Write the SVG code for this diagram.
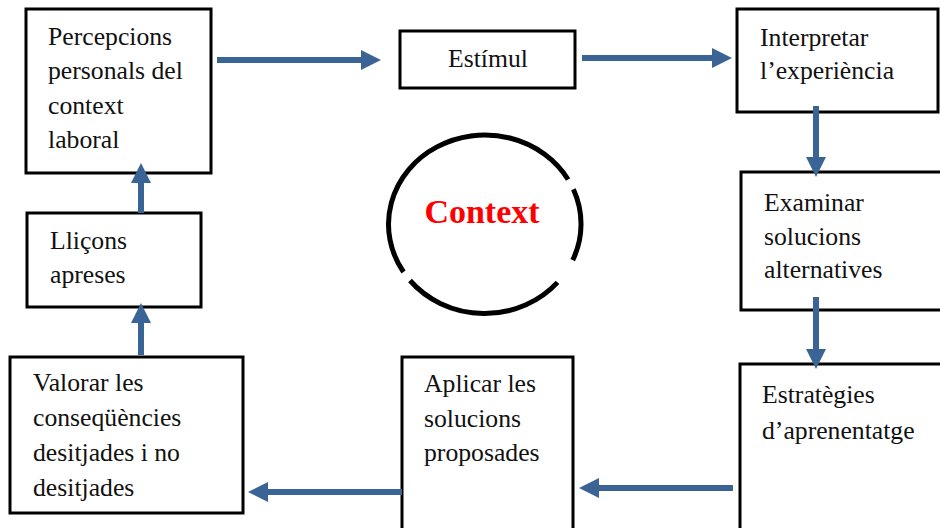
<svg xmlns="http://www.w3.org/2000/svg" width="940" height="528" viewBox="0 0 940 528">
<style>
.box{fill:#fff;stroke:#000;stroke-width:3}
.t{font-family:"Liberation Serif","Times New Roman",serif;font-size:25.7px;fill:#111}
.ctx{font-family:"Liberation Serif","Times New Roman",serif;font-size:34px;font-weight:bold;fill:#ff0000}
.arc{fill:none;stroke:#000;stroke-width:5}
.conn{stroke:#3b6496;stroke-width:6;fill:none;marker-end:url(#ah)}
</style>
<defs>
<marker id="ah" markerUnits="userSpaceOnUse" markerWidth="20" markerHeight="20" viewBox="0 0 20 20" refX="1" refY="10" orient="auto">
<path d="M0,0 L20,10 L0,20 z" fill="#3b6496"/>
</marker>
</defs>
<rect width="940" height="528" fill="#fff"/>
<g id="context">
<path class="arc" d="M573.4,189.2 A96,89 0 0 1 572.7,260.2"/>
<path class="arc" d="M557.5,282.4 A96,89 0 0 1 410,280.5"/>
<path class="arc" d="M403.5,272 A96,89 0 0 1 437,146.9 A96,89 0 0 1 568.1,179.5"/>
<text class="ctx" x="482" y="223" text-anchor="middle">Context</text>
</g>
<g id="percepcions">
<rect class="box" x="26" y="9" width="185" height="164"/>
<text class="t" x="48" y="45">Percepcions</text>
<text class="t" x="48" y="79">personals del</text>
<text class="t" x="48" y="114">context</text>
<text class="t" x="48" y="148">laboral</text>
</g>
<g id="estimul">
<rect class="box" x="400" y="31" width="175" height="57"/>
<text class="t" x="488" y="67" text-anchor="middle">Estímul</text>
</g>
<g id="interpretar">
<rect class="box" x="737" y="9" width="201" height="103"/>
<text class="t" x="760" y="46">Interpretar</text>
<text class="t" x="760" y="79">l’experiència</text>
</g>
<g id="examinar">
<rect class="box" x="741" y="172" width="210" height="138"/>
<text class="t" x="764" y="211">Examinar</text>
<text class="t" x="764" y="245">solucions</text>
<text class="t" x="764" y="278">alternatives</text>
</g>
<g id="estrategies">
<rect class="box" x="740" y="364" width="210" height="170"/>
<text class="t" x="762" y="403">Estratègies</text>
<text class="t" x="762" y="439">d’aprenentatge</text>
</g>
<g id="aplicar">
<rect class="box" x="402" y="357" width="171" height="175"/>
<text class="t" x="424" y="392">Aplicar les</text>
<text class="t" x="424" y="427">solucions</text>
<text class="t" x="424" y="461">proposades</text>
</g>
<g id="valorar">
<rect class="box" x="10" y="357" width="233" height="156"/>
<text class="t" x="33" y="391">Valorar les</text>
<text class="t" x="33" y="426">conseqüències</text>
<text class="t" x="33" y="461">desitjades i no</text>
<text class="t" x="33" y="496">desitjades</text>
</g>
<g id="llicons">
<rect class="box" x="27" y="213" width="174" height="94"/>
<text class="t" x="50" y="249">Lliçons</text>
<text class="t" x="50" y="283">apreses</text>
</g>
<g id="connectors">
<line class="conn" x1="217" y1="60" x2="362" y2="60"/>
<line class="conn" x1="582" y1="58" x2="713" y2="58"/>
<line class="conn" x1="816" y1="106" x2="816" y2="158"/>
<line class="conn" x1="816" y1="297" x2="816" y2="350"/>
<line class="conn" x1="733" y1="488" x2="598" y2="488"/>
<line class="conn" x1="402" y1="492" x2="267" y2="492"/>
<line class="conn" x1="141" y1="355" x2="141" y2="322"/>
<line class="conn" x1="141" y1="213" x2="141" y2="182"/>
</g>
</svg>
